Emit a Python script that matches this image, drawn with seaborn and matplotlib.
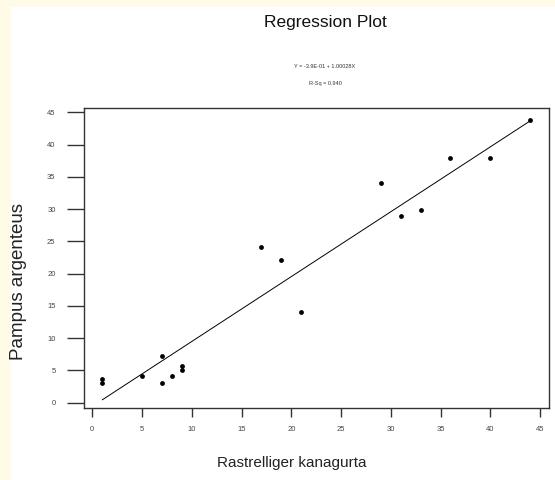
import matplotlib
matplotlib.use("Agg")
import matplotlib.pyplot as plt
import seaborn as sns
import pandas as pd
from matplotlib.patches import Rectangle

# Data
rastrelliger = [1, 1, 5, 7, 7, 8, 9, 9, 17, 19, 21, 29, 31, 33, 36, 40, 44]
pampus = [3.1, 3.7, 4.2, 7.2, 3.1, 4.2, 5.7, 5.1, 24.1, 22.1, 14.1, 34.0, 29.0, 29.9, 37.9, 37.9, 43.8]
x_ticks = [0, 5, 10, 15, 20, 25, 30, 35, 40, 45]
y_ticks = [0, 5, 10, 15, 20, 25, 30, 35, 40, 45]
title = "Regression Plot"
equation = "Y = -3.9E-01 + 1.00028X"
rsq = "R-Sq = 0.940"
x_label = "Rastrelliger kanagurta"
y_label = "Pampus argenteus"

df = pd.DataFrame({x_label: rastrelliger, y_label: pampus})

sns.set_style("white")
plt.rcParams["font.family"] = ["Liberation Sans", "DejaVu Sans"]

fig = plt.figure(figsize=(5.55, 4.8), dpi=100)
fig.patch.set_facecolor("#fffbe6")
bg = Rectangle((11 / 555, 0), 1 - 11 / 555, 1 - 7 / 480,
               transform=fig.transFigure, facecolor="white",
               edgecolor="none", zorder=-10)
fig.add_artist(bg)

ax = fig.add_axes([0.1514, 0.1506, 0.8372, 0.6238])
ax.set_zorder(1)
sns.regplot(data=df, x=x_label, y=y_label, ax=ax, ci=None, truncate=True,
            scatter_kws=dict(s=12, color="black", linewidths=0, alpha=1),
            line_kws=dict(color="black", lw=0.7))

ax.set_xlim(-0.83, 45.87)
ax.set_ylim(-0.78, 45.64)
ax.set_xticks(x_ticks)
ax.set_yticks(y_ticks)
ax.set_xticklabels([str(t) for t in x_ticks])
ax.set_yticklabels([str(t) for t in y_ticks])

for sp in ax.spines.values():
    sp.set_visible(True)
    sp.set_color("#333333")
    sp.set_linewidth(1.0)

ax.tick_params(axis="x", which="major", direction="out", length=6.5, width=1.0,
               color="#333333", labelsize=5.5, labelcolor="#444444", pad=7,
               bottom=True)
ax.tick_params(axis="y", which="major", direction="out", length=12, width=1.0,
               color="#333333", labelsize=5.5, labelcolor="#444444", pad=8.5,
               left=True)

ax.set_xlabel(x_label, fontsize=11, color="#222222", va="center")
ax.set_ylabel(y_label, fontsize=13.5, color="#222222", va="center")
ax.xaxis.set_label_coords(0.4476, -0.1847)
ax.yaxis.set_label_coords(-0.142, 0.423)

fig.text(325 / 555, 1 - 23 / 480, title, fontsize=12.5, ha="center", va="center",
         color="#111111", zorder=2)
fig.text(325 / 555, 1 - 66 / 480, equation, fontsize=4, ha="center", va="center",
         color="#333333", zorder=2)
fig.text(325 / 555, 1 - 83 / 480, rsq, fontsize=4, ha="center", va="center",
         color="#333333", zorder=2)

fig.savefig("out.png", dpi=100, facecolor=fig.get_facecolor())
